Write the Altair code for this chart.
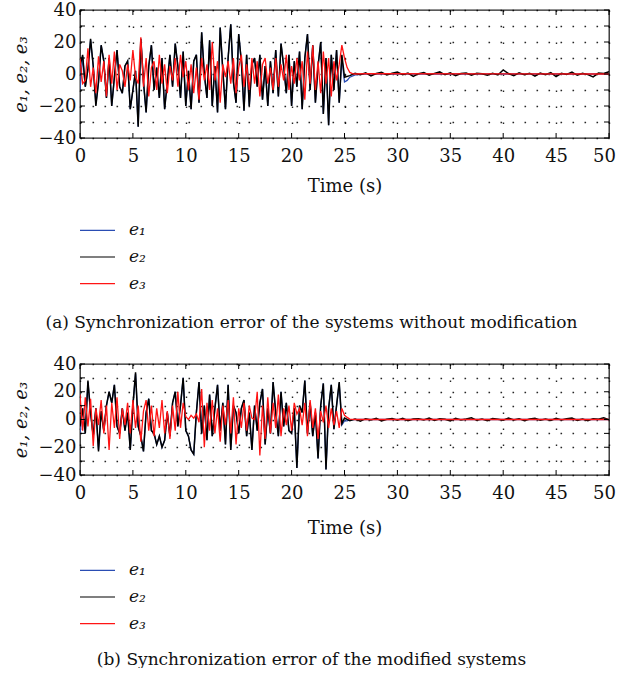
import altair as alt
import numpy as np
import pandas as pd

# ---------------- data ----------------
STEP = 0.25  # sampling of the chaotic part, seconds (t = 0 .. 25)

# panel (a): systems without modification
E1_A = [-10, 11, -8, 3, 21, 5, -19, -5, 18, 8,
        -15, 10, -20, -2, 15, -8, -12, 5, 8, -22,
        -10, 2, -33, 22, -5, -24, 5, 18, -10, 4,
        -15, 10, -22, -5, 12, -8, 19, 5, -15, 14,
        -20, 2, -22, 8, 12, -18, 26, 0, -15, 21,
        -20, 5, -24, 29, 2, -22, 10, 31, -5, -18,
        25, 8, -23, 12, -20, 6, 10, -8, 12, -16,
        5, -20, 8, -12, 15, -14, 19, 5, -12, 12,
        -20, 8, -8, 14, -22, 10, 25, -10, 18, -18,
        5, 20, -25, 10, -32, 12, -10, 15, -18, 10,
        -5]
E2_A = [5, 12, -8, 3, 22, 5, -20, -5, 18, 8,
        -15, 10, -20, -2, 15, -8, -12, 5, 8, -22,
        -10, 2, -33, 22, -5, -24, 5, 18, -10, 4,
        -15, 10, -22, -5, 12, -8, 19, 5, -15, 14,
        -20, 2, -22, 8, 12, -18, 26, 0, -15, 21,
        -20, 5, -24, 29, 2, -22, 10, 31, -5, -18,
        25, 8, -23, 12, -20, 6, 10, -8, 12, -16,
        5, -20, 8, -12, 15, -14, 19, 5, -12, 12,
        -20, 8, -8, 14, -22, 10, 25, -10, 18, -18,
        5, 20, -25, 10, -32, 12, -10, 15, -18, 12,
        -2]
E3_A = [10, -6, -4, 16, -8, 4, -12, 11, -5, 8,
        -14, 12, -6, 14, -10, 6, 2, -8, 6, -4,
        15, -2, -6, 23, -8, 10, -14, 4, 8, -10,
        12, -6, 6, -12, 5, -4, 10, -8, 12, -2,
        8, -10, 6, -12, 4, -16, 10, -4, 6, -10,
        20, -4, 8, -18, 6, -2, 8, -6, 10, -12,
        4, 12, -8, 6, -10, 10, -6, 8, -14, 6,
        10, -6, 4, -10, 10, -8, 6, -4, 12, -10,
        5, -6, 10, -4, 8, -16, 14, -6, 18, -10,
        8, -12, 14, -6, 10, -14, 8, -4, 6, 18,
        10]
# after synchronisation (t > 25)
E1_A_TAIL_T = [25.25, 25.5, 26, 27, 50]
E1_A_TAIL_V = [-4, -2, -0.5, 0, 0]
E2_A_TAIL_T0, E2_A_TAIL_DT = 25.5, 0.5
E2_A_TAIL_V = [-1, 0.5, -0.5, 0.8, -1.2, 0.3, 1, -0.6, 0.5, 1.2,
               -0.4, 0.6, -1.5, 0.2, 0.9, -0.8, 0.4, 1.3, -0.5, 0.7,
               -1, 0.3, 0.6, -0.7, 0.4, 0.2, -0.8, 0.5, -0.6, 2.5,
               0.3, -1, 0.7, -0.4, 0.5, -1.3, 0.6, -0.5, 0.9, -1.6,
               0.4, -0.3, 1.2, -0.8, 0.5, -0.4, -1.8, 0.6, 0.3, 1.5]
E3_A_TAIL_T = [25.25, 25.5, 25.75, 26, 27, 50]
E3_A_TAIL_V = [4, 1, 0.3, 0, 0.2, 0]

# panel (b): modified systems
E1_B = [-10, 8, -10, 27, 5, -12, 8, -22, 6, -8,
        10, 20, 12, 25, -5, -10, 8, -8, 5, -22,
        10, 33, -5, -12, -23, 5, 15, -8, -10, -18,
        -12, -20, -15, 5, -12, 12, 20, -5, 10, 30,
        -8, -12, -22, -25, 5, 27, -10, 10, -15, 18,
        -12, 8, 25, -8, 12, -18, 25, -22, 10, 5,
        -10, 8, 14, -12, 5, -22, 10, -8, 12, 22,
        -18, 8, -10, 27, 5, -12, 20, -5, 12, -8,
        -10, 8, -35, 10, 5, 28, -10, 12, -12, 5,
        -28, 10, 26, -36, 8, 25, -7, 10, 26, -4,
        -1]
E2_B = [-5, 8, -10, 28, 5, -12, 8, -23, 6, -8,
        10, 20, 12, 25, -5, -10, 8, -8, 5, -22,
        10, 34, -5, -12, -23, 5, 15, -8, -10, -18,
        -12, -20, -15, 5, -12, 12, 20, -5, 10, 30,
        -8, -12, -22, -25, 5, 27, -10, 10, -15, 18,
        -12, 8, 25, -8, 12, -18, 25, -22, 10, 5,
        -10, 8, 14, -12, 5, -22, 10, -8, 12, 22,
        -18, 8, -10, 27, 5, -12, 20, -5, 12, -8,
        -10, 8, -35, 10, 5, 28, -10, 12, -12, 5,
        -28, 10, 26, -36, 8, 25, -7, 10, 27, -3,
        1]
E3_B = [18, -8, 16, -5, 15, -19, 8, -4, 14, -10,
        10, -22, 12, -6, 16, -14, 8, -4, 12, -10,
        14, -6, 10, -16, 6, 14, -8, 10, -12, 8,
        -6, 14, -10, 6, -14, 10, -8, 20, -6, 12,
        2, 0, 3, 1, 4, -2, 22, -20, 12, -8,
        14, -10, 8, -16, 10, -4, 14, -10, 16, -18,
        8, -6, 12, -8, 10, 1, 0, 20, -26, 10,
        -14, 16, -10, 12, -6, 18, -12, 8, -4, 10,
        -8, 12, 4, 8, -4, 12, -12, 14, -6, 8,
        -14, 6, -2, 10, -6, 8, -4, 6, -6, 8,
        3]
E1_B_TAIL_T = [25.25, 25.5, 26, 50]
E1_B_TAIL_V = [-1, -0.3, 0, 0]
E2_B_TAIL_T0, E2_B_TAIL_DT = 25.5, 0.5
E2_B_TAIL_V = [-0.8, 0.4, -1.2, 0.6, -0.3, 0.9, -1, 0.2, 0.7, -0.5,
               0.8, -0.9, 0.3, 0.6, -0.4, 1.1, -0.7, 0.5, 0.2, -1,
               0.9, -0.3, 0.4, 1.2, -0.6, 0.3, -0.8, 0.7, 0.2, -0.5,
               1, -0.4, 0.6, -0.9, 0.3, 0.8, -0.5, 0.4, -0.7, 0.9,
               -0.3, 0.5, 1.1, -0.6, 0.4, -0.8, 0.6, 0.2, 1.2, -0.2]
E3_B_TAIL_T = [25.25, 25.5, 26, 50]
E3_B_TAIL_V = [1.5, 0.3, 0, 0]

X_TICKS = [0, 5, 10, 15, 20, 25, 30, 35, 40, 45, 50]
Y_TICKS = [-40, -30, -20, -10, 0, 10, 20, 30, 40]
NAMES = ["e₁", "e₂", "e₃"]
COLORS = ["#2a4db3", "#000000", "#ff1414"]
CAPTIONS = ["(a)  Synchronization error of the systems without modification",
            "(b)  Synchronization error of the modified systems"]

FONT = "DejaVu Serif"
W = 529


def frame(vals, tail_t, tail_v):
    t = [i * STEP for i in range(len(vals))] + list(tail_t)
    return pd.DataFrame({"t": t, "v": list(vals) + list(tail_v)})


def even_tail(t0, dt, vals):
    return [t0 + i * dt for i in range(len(vals))], vals


def panel(e1, e2, e3, H, title_pad):
    xs = alt.Scale(domain=[0, 50], nice=False)
    ys = alt.Scale(domain=[-40, 40], nice=False)
    xax = alt.Axis(values=X_TICKS, title="Time (s)", grid=True, gridDash=[1.6, 14.4],
                   gridColor="#000", gridWidth=1.4, gridOpacity=0.85, tickSize=0,
                   labelFlush=False,
                   labelOffset={"condition": {"test": "datum.value === 50", "value": -5}, "value": 0},
                   labelPadding=9, titlePadding=title_pad, domain=False)
    yax = alt.Axis(values=Y_TICKS, title="e₁, e₂, e₃", grid=True, gridDash=[1.6, 10.4],
                   gridColor="#000", gridWidth=1.4, gridOpacity=0.85, tickSize=0,
                   labelExpr="datum.value % 20 == 0 ? datum.label : ''",
                   labelPadding=4, titlePadding=8, titleFontStyle="italic", domain=False)
    layers = []
    for df, col, sw in [(e1, COLORS[0], 1.3), (e2, COLORS[1], 1.5), (e3, COLORS[2], 1.3)]:
        layers.append(alt.Chart(df).mark_line(color=col, strokeWidth=sw, clip=True)
                      .encode(x=alt.X("t:Q", scale=xs, axis=xax),
                              y=alt.Y("v:Q", scale=ys, axis=yax)))
    xt = pd.DataFrame({"t": X_TICKS})
    yt = pd.DataFrame({"v": Y_TICKS})
    tick_style = dict(color="#000", strokeWidth=1)
    X = alt.X("t:Q", scale=xs, axis=xax)
    Y = alt.Y("v:Q", scale=ys, axis=yax)
    layers += [
        alt.Chart(xt).mark_rule(**tick_style).encode(x=X, y=alt.value(H), y2=alt.value(H - 5)),
        alt.Chart(xt).mark_rule(**tick_style).encode(x=X, y=alt.value(0), y2=alt.value(5)),
        alt.Chart(yt).mark_rule(**tick_style).encode(y=Y, x=alt.value(0), x2=alt.value(5)),
        alt.Chart(yt).mark_rule(**tick_style).encode(y=Y, x=alt.value(W), x2=alt.value(W - 5)),
    ]
    return alt.layer(*layers).properties(
        width=W, height=H,
        view=alt.ViewBackground(stroke="#222", strokeWidth=1.3))


def legend(caption, cap_offset):
    df = pd.DataFrame({"name": NAMES, "color": COLORS})
    ysc = alt.Y("name:N", scale=alt.Scale(domain=NAMES), axis=None)
    rules = alt.Chart(df).mark_rule(strokeWidth=1.2).encode(
        y=ysc, x=alt.value(0), x2=alt.value(35),
        color=alt.Color("color:N", scale=None, legend=None))
    labels = alt.Chart(df).mark_text(align="left", baseline="middle", font=FONT, fontSize=17,
                                     fontStyle="italic", color="#111").encode(
        y=ysc, x=alt.value(49), text="name:N")
    return alt.layer(rules, labels).properties(
        width=W, height=80,
        title=alt.TitleParams(caption, orient="bottom", anchor="middle", dx=-33, offset=cap_offset,
                              font=FONT, fontSize=17, fontWeight="normal", color="#111"))


a1 = frame(E1_A, E1_A_TAIL_T, E1_A_TAIL_V)
a2 = frame(E2_A, *even_tail(E2_A_TAIL_T0, E2_A_TAIL_DT, E2_A_TAIL_V))
a3 = frame(E3_A, E3_A_TAIL_T, E3_A_TAIL_V)
b1 = frame(E1_B, E1_B_TAIL_T, E1_B_TAIL_V)
b2 = frame(E2_B, *even_tail(E2_B_TAIL_T0, E2_B_TAIL_DT, E2_B_TAIL_V))
b3 = frame(E3_B, E3_B_TAIL_T, E3_B_TAIL_V)

chart = alt.vconcat(
    alt.vconcat(panel(a1, a2, a3, 128, 12), legend(CAPTIONS[0], 18), spacing=21),
    alt.vconcat(panel(b1, b2, b3, 111, 17), legend(CAPTIONS[1], 15), spacing=19),
    spacing=23,
).properties(padding={"left": 11, "top": 0, "right": 0, "bottom": 0}).configure_view(
    stroke=None).configure_axis(
    labelFont=FONT, labelFontSize=18, labelColor="#111",
    titleFont=FONT, titleFontSize=18, titleFontWeight="normal", titleColor="#111")

chart.save("out.html", embed_options={"renderer": "svg", "actions": False})
